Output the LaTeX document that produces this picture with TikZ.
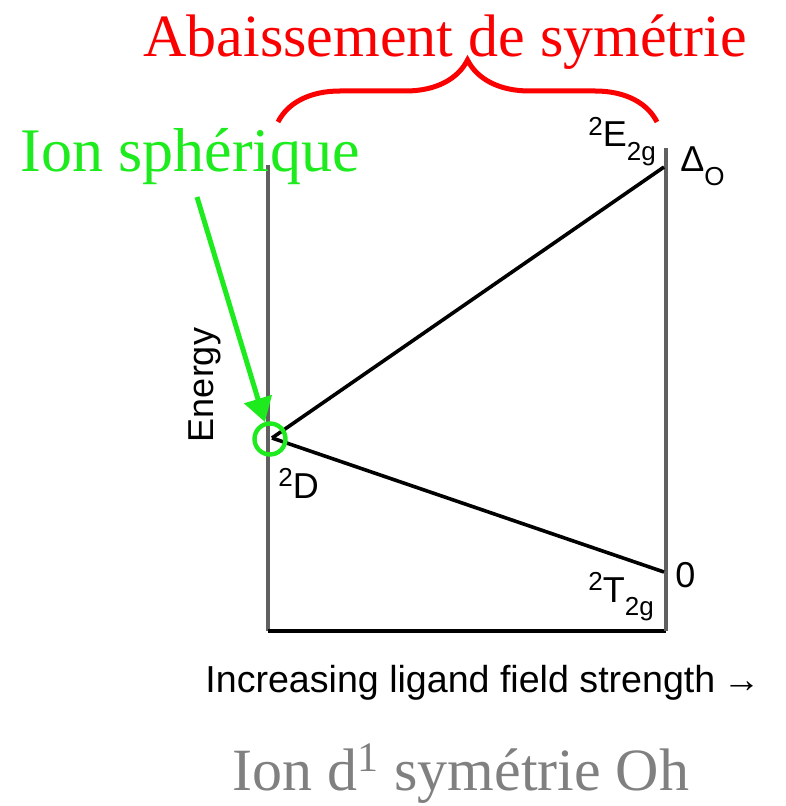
\documentclass[tikz,border=0pt]{standalone}
\usepackage{fontspec}
\setmainfont{Liberation Serif}
\newfontfamily\plotfont{Liberation Sans}
\usetikzlibrary{arrows.meta,decorations.pathreplacing}
\definecolor{vert}{RGB}{30,235,30}
\definecolor{rouge}{RGB}{250,0,0}
\definecolor{gris}{RGB}{128,128,128}
\newcommand{\up}[1]{\raisebox{0.6ex}{\fontsize{13}{13}\selectfont #1}}
\newcommand{\dn}[1]{\raisebox{-0.7ex}{\fontsize{13}{13}\selectfont #1}}

\begin{document}
\begin{tikzpicture}[x=0.5pt, y=-0.5pt,
  big/.style={font=\fontsize{30}{32}\selectfont, inner sep=0pt},
  lab/.style={font=\plotfont\fontsize{18}{20}\selectfont, inner sep=0pt},
  axe/.style={line width=1.8pt, draw=gray!75!black},
  level/.style={line width=1.8pt, draw=black},
  fleche/.style={-{Triangle[length=12pt, width=14pt]}, line width=2.5pt, draw=vert}]
  \useasboundingbox (0,0) rectangle (785,806);
  % cadre du diagramme
  \coordinate (tl) at (268,165);
  \coordinate (bl) at (268,631);
  \coordinate (br) at (666,631);
  \coordinate (tr) at (666,148);
  \draw[axe] (tl) -- (bl);
  \draw[axe, draw=black] (bl) -- (br);
  \draw[axe] (br) -- (tr);
  % niveaux d'energie
  \coordinate (D) at (272,438);
  \coordinate (E) at (664,167);
  \coordinate (T) at (664,572);
  \draw[level] (D) -- (E);
  \draw[level] (D) -- (T);
  % etiquettes
  \node[lab, anchor=base west] (lE) at (588,147) {\up{2}E\dn{2g}};
  \node[lab, anchor=base west] (lDo) at (680,172) {Δ\dn{O}};
  \node[lab, anchor=base west] (lD) at (278,498) {\up{2}D};
  \node[lab, anchor=base west] (lT) at (588,602) {\up{2}T\dn{2g}};
  \node[lab, anchor=base west] (l0) at (675,587) {0};
  \node[lab, rotate=90] (en) at (205,385) {Energy};
  \node[lab, font=\plotfont\fontsize{18.8}{21}\selectfont, anchor=base west] (ax) at (205,692) {Increasing ligand field strength\hspace{0.2em}→};
  % ion spherique
  \node[big, font=\fontsize{31}{33}\selectfont, text=vert, anchor=base west] (sph) at (20,172) {Ion sphérique};
  \node[circle, draw=vert, line width=2.2pt, minimum size=15.5pt, inner sep=0pt] (ion) at (270,439) {};
  \coordinate (a0) at (197,197);
  \draw[fleche] (a0) -- (ion);
  % abaissement de symetrie
  \node[big, text=rouge, anchor=base west] (titre) at (143,57) {Abaissement de symétrie};
  \coordinate (bA) at (278,122);
  \coordinate (bB) at (657,122);
  \draw[rouge, line width=2.5pt, decorate, decoration={brace, amplitude=31pt}] (bA) -- (bB);
  % legende
  \node[big, text=gris, anchor=base west] (legende) at (232,790) {Ion d\textsuperscript{1} symétrie Oh};
\end{tikzpicture}
\end{document}
